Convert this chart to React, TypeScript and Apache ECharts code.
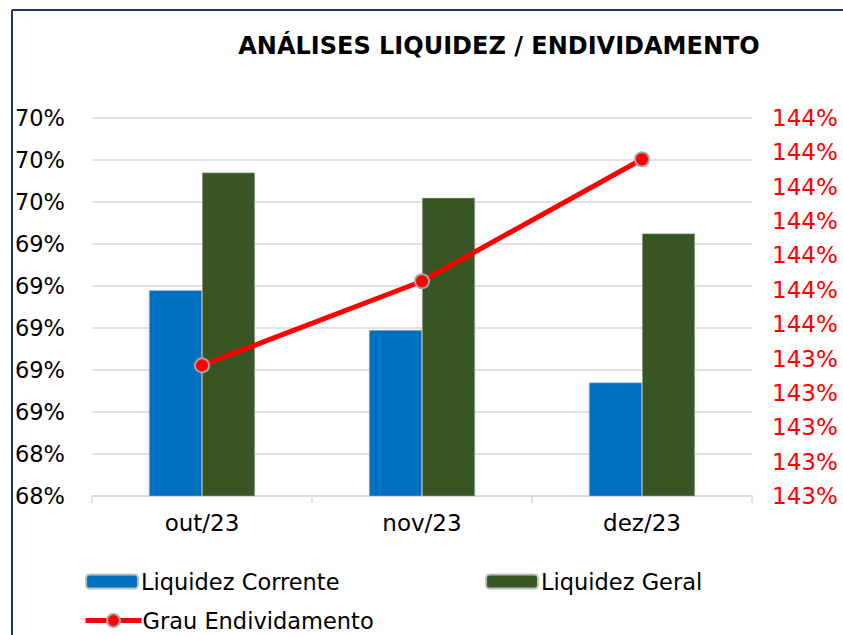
import React, { useEffect, useRef } from "react";
import * as echarts from "echarts";

const categories = ["out/23", "nov/23", "dez/23"];
const liquidezCorrente = [69.18, 68.99, 68.74];
const liquidezGeral = [69.74, 69.62, 69.45];
const grauEndividamento = [143.476, 143.525, 143.596];

const FONT = "'DejaVu Sans', sans-serif";

export default function App() {
  const ref = useRef<HTMLDivElement>(null);
  useEffect(() => {
    const chart = echarts.init(ref.current!, null, { renderer: "svg" });
    chart.setOption({
      animation: false,
      backgroundColor: "#fff",
      title: {
        text: "ANÁLISES LIQUIDEZ / ENDIVIDAMENTO",
        left: 494,
        textAlign: "center",
        top: 29,
        textStyle: { fontFamily: FONT, fontSize: 24, fontWeight: "bold", color: "#000" },
      },
      graphic: [
        { type: "line", shape: { x1: 12, y1: 10, x2: 843, y2: 10 }, style: { stroke: "#1F3864", lineWidth: 2 } },
        { type: "line", shape: { x1: 12, y1: 10, x2: 12, y2: 635 }, style: { stroke: "#1F3864", lineWidth: 2 } },
      ],
      legend: [
        {
          data: ["Liquidez Corrente"],
          left: 80,
          top: 565,
          itemWidth: 52,
          itemHeight: 14,
          itemGap: 0,
          textStyle: { fontFamily: FONT, fontSize: 22.5, color: "#000", padding: [0, 0, 0, -2] },
        },
        {
          data: ["Liquidez Geral"],
          left: 480,
          top: 565,
          itemWidth: 52,
          itemHeight: 14,
          textStyle: { fontFamily: FONT, fontSize: 22.5, color: "#000", padding: [0, 0, 0, -2] },
        },
        {
          data: ["Grau Endividamento"],
          left: 78,
          top: 604,
          itemWidth: 56,
          itemHeight: 16,
          lineStyle: { width: 5, color: "#FF0000" },
          textStyle: { fontFamily: FONT, fontSize: 22.5, color: "#000", padding: [0, 0, 0, -4] },
        },
      ],
      grid: { left: 92, right: 91, top: 118, bottom: 139, containLabel: false },
      xAxis: {
        type: "category",
        data: categories,
        axisLine: { lineStyle: { color: "#D9D9D9", width: 1.5 } },
        axisTick: { show: true, length: 7, lineStyle: { color: "#D9D9D9", width: 1.5 } },
        axisLabel: { fontFamily: FONT, fontSize: 23, color: "#000", margin: 15 },
      },
      yAxis: [
        {
          type: "value",
          min: 68.2,
          max: 70.0,
          interval: 0.2,
          axisLine: { show: false },
          axisTick: { show: false },
          splitLine: { lineStyle: { color: "#D9D9D9", width: 1.5 } },
          axisLabel: {
            fontFamily: FONT,
            fontSize: 22.5,
            color: "#000",
            margin: 27,
            formatter: (v: number) => Math.round(v) + "%",
          },
        },
        {
          type: "value",
          min: 143.4,
          max: 143.62,
          interval: 0.02,
          axisLine: { show: false },
          axisTick: { show: false },
          splitLine: { show: false },
          axisLabel: {
            fontFamily: FONT,
            fontSize: 23,
            color: "#FF0000",
            margin: 20,
            formatter: (v: number) => Math.round(v) + "%",
          },
        },
      ],
      series: [
        {
          name: "Liquidez Corrente",
          type: "bar",
          data: liquidezCorrente,
          barWidth: 53,
          barGap: "0%",
          itemStyle: { color: "#0070C0", borderColor: "#BFBFBF", borderWidth: 0.5 },
        },
        {
          name: "Liquidez Geral",
          type: "bar",
          data: liquidezGeral,
          barWidth: 53,
          barGap: "0%",
          itemStyle: { color: "#375623", borderColor: "#BFBFBF", borderWidth: 0.5 },
        },
        {
          name: "Grau Endividamento",
          type: "line",
          yAxisIndex: 1,
          data: grauEndividamento,
          symbol: "circle",
          symbolSize: 14,
          lineStyle: { color: "#FF0000", width: 5 },
          itemStyle: { color: "#FF0000", borderColor: "#A5A5A5", borderWidth: 2 },
        },
      ],
    });
    return () => chart.dispose();
  }, []);
  return <div ref={ref} style={{ width: 843, height: 635, position: "absolute", left: 0, top: 0 }} />;
}
